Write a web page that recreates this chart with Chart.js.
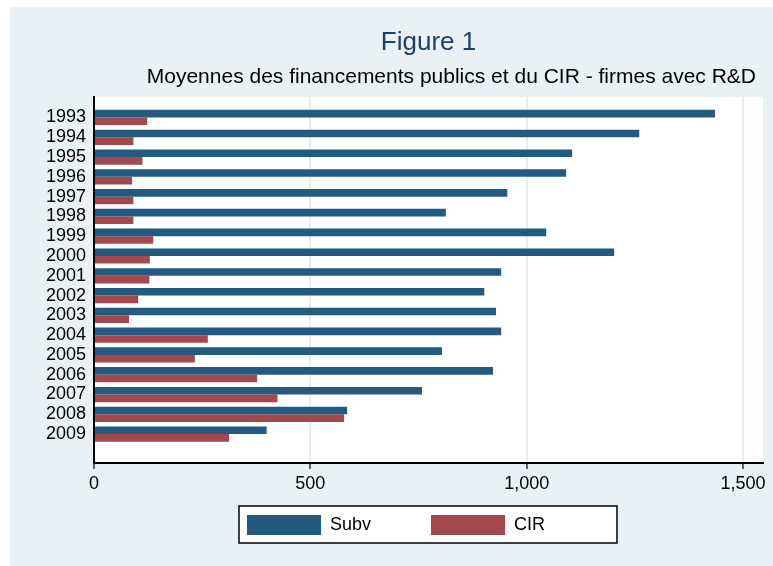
<!DOCTYPE html>
<html>
<head>
<meta charset="utf-8">
<script src="https://cdn.jsdelivr.net/npm/chart.js@4/dist/chart.umd.min.js"></script>
<style>
html,body{margin:0;padding:0;background:#fff;}
#wrap{width:773px;height:566px;position:relative;}
</style>
</head>
<body>
<div id="wrap"><canvas id="c" width="773" height="566"></canvas></div>
<script>
// ---- data ----
const years = [1993,1994,1995,1996,1997,1998,1999,2000,2001,2002,2003,2004,2005,2006,2007,2008,2009];
const subv  = [1435,1260,1105,1091,955,813,1045,1202,941,902,929,941,804,922,758,585,399];
const cir   = [123,91,112,88,91,91,137,129,128,102,81,263,233,377,424,578,312];
const xTicks = [0,500,1000,1500];
const seriesNames = ['Subv','CIR'];
const titleText = 'Figure 1';
const subtitleText = 'Moyennes des financements publics et du CIR - firmes avec R&D';

const FONT = '"Liberation Sans", Arial, Helvetica, sans-serif';
const PANEL = '#eaf1f4';
const BLUE = '#235b80';
const RED = '#a5484d';

const frame = {
  id: 'frame',
  afterLayout(chart) {
    const lg = chart.legend;
    lg.top -= 8; lg.bottom -= 8; lg.left += 9.5; lg.right += 9.5;
    chart.boxes.forEach(b => {
      if (b.options && b.options.text === subtitleText) { b.left -= 7; b.right -= 7; }
    });
    const xs = chart.scales.x;
    xs.bottom = xs.top + 40;
  },
  beforeDraw(chart) {
    const {ctx, chartArea: a} = chart;
    ctx.save();
    ctx.fillStyle = '#fff';
    ctx.fillRect(0, 0, chart.width, chart.height);
    ctx.fillStyle = PANEL;
    ctx.fillRect(10, 7, chart.width - 10, chart.height - 7);
    ctx.fillStyle = '#fff';
    ctx.fillRect(a.left, a.top, a.right - a.left, a.bottom - a.top);
    const hb = chart.legend.legendHitBoxes;
    if (hb && hb.length) {
      const l = hb[0].left - 8, r = hb[0].left + 370, t = hb[0].top - 9, b = hb[0].top + 28;
      ctx.fillStyle = '#fff';
      ctx.fillRect(l, t, r - l, b - t);
      ctx.strokeStyle = '#000';
      ctx.lineWidth = 1.5;
      ctx.strokeRect(l, t, r - l, b - t);
    }
    ctx.restore();
  }
};

new Chart(document.getElementById('c'), {
  type: 'bar',
  data: {
    labels: years,
    datasets: [
      {label: seriesNames[0], data: subv, backgroundColor: BLUE, borderWidth: 0, categoryPercentage: 0.77, barPercentage: 1},
      {label: seriesNames[1], data: cir, backgroundColor: RED, borderWidth: 0, categoryPercentage: 0.77, barPercentage: 1}
    ]
  },
  options: {
    indexAxis: 'y',
    responsive: false,
    animation: false,
    devicePixelRatio: 1,
    layout: {padding: {left: 10, right: 10, top: 0, bottom: 13}},
    scales: {
      x: {
        type: 'linear', position: 'bottom', min: 0, max: 1546,
        afterBuildTicks: s => { s.ticks = xTicks.map(v => ({value: v})); },
        afterFit: s => { s.height = 0; },
        grid: {color: '#e7eef1', lineWidth: 2, drawTicks: true, tickLength: 6, tickColor: '#000', tickWidth: 1.2},
        border: {display: true, color: '#000', width: 2, z: 1},
        ticks: {font: {family: FONT, size: 18}, color: '#000', padding: 4, maxRotation: 0, autoSkip: false}
      },
      y: {
        type: 'linear', position: 'left', reverse: true, min: 1991.965, max: 2010.46,
        offset: false,
        afterBuildTicks: s => { s.ticks = years.map(v => ({value: v})); },
        afterFit: s => { s.width = 84; },
        grid: {display: false, drawTicks: false, offset: false},
        border: {display: true, color: '#000', width: 2, z: 1},
        ticks: {font: {family: FONT, size: 18}, color: '#000', padding: 8, autoSkip: false, callback: v => String(v)}
      }
    },
    plugins: {
      title: {
        display: true, text: titleText, fullSize: false, align: 'center',
        color: '#1f4068', font: {family: FONT, size: 26, weight: 'normal'},
        padding: {top: 27.4, bottom: 5.8}
      },
      subtitle: {
        display: true, text: subtitleText, fullSize: false, align: 'end',
        color: '#000', font: {family: FONT, size: 21, weight: 'normal'},
        padding: {top: 0, bottom: 7.4}
      },
      legend: {
        position: 'bottom',
        labels: {boxWidth: 74, boxHeight: 20, padding: 60, color: '#000', font: {family: FONT, size: 18}}
      },
      tooltip: {enabled: false}
    }
  },
  plugins: [frame]
});
</script>
</body>
</html>
